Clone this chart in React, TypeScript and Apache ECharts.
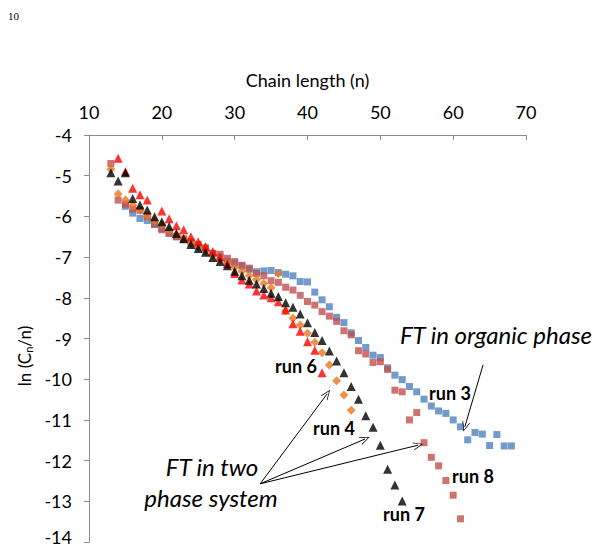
import React, { useEffect, useRef } from "react";
import * as echarts from "echarts";

// ---- data ----
const run3N = [15,16,17,18,19,20,21,22,23,24,25,26,27,28,29,30,31,32,33,34,35,36,37,38,39,40,41,42,43,44,45,46,47,48,49,50,51,52,53,54,55,56,57,58,59,60,61,62,63,64,65,66,67,68];
const run3V = [-5.75,-5.92,-6.05,-6.10,-6.20,-6.30,-6.40,-6.50,-6.58,-6.66,-6.74,-6.80,-6.92,-7.00,-7.10,-7.15,-7.22,-7.30,-7.36,-7.34,-7.33,-7.38,-7.42,-7.46,-7.60,-7.61,-7.86,-8.05,-8.22,-8.48,-8.61,-8.86,-9.05,-9.22,-9.41,-9.47,-9.72,-9.90,-10.01,-10.18,-10.31,-10.49,-10.66,-10.78,-10.84,-11.00,-11.17,-11.49,-11.31,-11.35,-11.63,-11.36,-11.64,-11.64];

const run8N = [13,14,15,16,17,18,19,20,21,22,23,24,25,26,27,28,29,30,31,32,33,34,35,36,37,38,39,40,41,42,43,44,45,46,47,48,49,50,51,52,53,54,55,56,57,58,59,60,61];
const run8V = [-4.70,-5.60,-5.70,-5.82,-5.85,-6.00,-6.19,-6.33,-6.42,-6.50,-6.55,-6.62,-6.69,-6.77,-6.91,-6.93,-7.03,-7.11,-7.20,-7.27,-7.40,-7.46,-7.58,-7.62,-7.74,-7.81,-7.94,-8.09,-8.18,-8.34,-8.45,-8.58,-8.81,-8.91,-9.30,-9.38,-9.59,-9.57,-9.76,-10.27,-10.31,-11.00,-10.82,-11.56,-11.92,-12.13,-12.49,-12.85,-13.43];

const run4N = [13,14,15,16,17,18,19,20,21,22,23,24,25,26,27,28,29,30,31,32,33,34,35,36,37,38,39,40,41,42,43,44,45,46];
const run4V = [-4.84,-5.45,-5.60,-5.72,-5.85,-6.00,-6.10,-6.20,-6.35,-6.45,-6.55,-6.65,-6.75,-6.85,-6.95,-7.05,-7.15,-7.25,-7.35,-7.45,-7.55,-7.65,-7.75,-7.40,-8.32,-8.50,-8.67,-8.87,-9.09,-9.35,-9.65,-10.04,-10.39,-10.76];

const run6N = [14,15,16,17,18,20,21,22,23,24,25,26,27,28,29,30,31,32,33,34,35,36,37,38,39,40,41,42];
const run6V = [-4.57,-4.90,-5.31,-5.47,-5.60,-5.87,-6.06,-6.23,-6.33,-6.50,-6.62,-6.74,-6.86,-7.00,-7.16,-7.40,-7.56,-7.66,-7.83,-7.93,-8.00,-8.10,-8.30,-8.64,-8.82,-9.08,-9.29,-9.84];

const run7N = [13,14,15,16,17,18,19,20,21,22,23,24,25,26,27,28,29,30,31,32,33,34,35,36,37,38,39,40,41,42,43,44,45,46,47,48,49,50,51,52,53];
const run7V = [-4.93,-5.13,-4.93,-5.56,-5.72,-5.84,-6.01,-6.13,-6.25,-6.42,-6.54,-6.69,-6.79,-6.88,-7.01,-7.11,-7.21,-7.35,-7.46,-7.57,-7.66,-7.77,-7.89,-7.97,-8.12,-8.23,-8.40,-8.61,-8.85,-9.05,-9.31,-9.55,-9.84,-10.18,-10.49,-10.90,-11.18,-11.62,-12.21,-12.60,-12.99];

// arrows (data coordinates): start -> end
const twoPhaseFrom = [33.5, -12.57];
const twoPhaseTo = [[42.7, -10.36], [47.9, -11.47], [55.2, -11.62]];
const organicFrom = [64.1, -9.65];
const organicTo = [61.6, -11.17];

const xTitle = "Chain length (n)";

const zip = (n: number[], v: number[]) => n.map((x, i) => [x, v[i]]);

const FONT = "Lato, 'Open Sans', sans-serif";
const ARROW = "path://M0,10 L5,0 L10,10 L9,10 L5,1.8 L1,10 Z";

export default function App() {
  const ref = useRef<HTMLDivElement>(null);
  useEffect(() => {
    if (!ref.current) return;
    const chart = echarts.init(ref.current, null, { renderer: "svg" });
    const arrowData: any[] = twoPhaseTo.map((t) => [
      { coord: twoPhaseFrom },
      { coord: t },
    ]);
    arrowData.push([{ coord: organicFrom }, { coord: organicTo }]);
    const boldText = (text: string, x: number, y: number) => ({
      type: "text",
      x,
      y,
      style: {
        text,
        font: `bold 18px ${FONT}`,
        fill: "#000",
        textAlign: "center",
        textVerticalAlign: "middle",
      },
    });
    const italicText = (text: string, x: number, y: number) => ({
      type: "text",
      x,
      y,
      style: {
        text,
        font: `italic 24px ${FONT}`,
        fill: "#000",
        textAlign: "center",
        textVerticalAlign: "middle",
      },
    });
    chart.setOption({
      animation: false,
      backgroundColor: "#fff",
      grid: { left: 89, top: 135, width: 437, height: 407, containLabel: false },
      xAxis: {
        type: "value",
        position: "top",
        min: 10,
        max: 70,
        interval: 10,
        name: xTitle,
        nameLocation: "middle",
        nameGap: 46,
        nameTextStyle: { fontFamily: FONT, fontSize: 18, color: "#000" },
        axisLine: { show: true, lineStyle: { color: "#8c8c8c" } },
        axisTick: { show: true, inside: true, length: 5, lineStyle: { color: "#8c8c8c" } },
        axisLabel: { fontFamily: FONT, fontSize: 18, color: "#000", margin: 14 },
        splitLine: { show: false },
      },
      yAxis: {
        type: "value",
        min: -14,
        max: -4,
        interval: 1,
        axisLine: { show: true, lineStyle: { color: "#8c8c8c" } },
        axisTick: { show: true, inside: false, length: 5, lineStyle: { color: "#8c8c8c" } },
        axisLabel: {
          fontFamily: FONT,
          fontSize: 18,
          color: "#000",
          margin: 17,
          formatter: (v: number) => (v === -14 ? "{low|" + v + "}" : String(v)),
          rich: {
            low: { fontFamily: FONT, fontSize: 18, color: "#000", padding: [0, 0, 10, 0] },
          },
        },
        splitLine: { show: false },
      },
      series: [
        {
          name: "run 3",
          type: "scatter",
          symbol: "rect",
          symbolSize: 7,
          itemStyle: { color: "#4F81BD" },
          data: zip(run3N, run3V),
        },
        {
          name: "run 8",
          type: "scatter",
          symbol: "rect",
          symbolSize: 7,
          itemStyle: { color: "#C0504D" },
          data: zip(run8N, run8V),
        },
        {
          name: "run 4",
          type: "scatter",
          symbol: "diamond",
          symbolSize: 9,
          itemStyle: { color: "#E8771E" },
          data: zip(run4N, run4V),
        },
        {
          name: "run 6",
          type: "scatter",
          symbol: "triangle",
          symbolSize: 9,
          itemStyle: { color: "#FF0000" },
          data: zip(run6N, run6V),
        },
        {
          name: "run 7",
          type: "scatter",
          symbol: "triangle",
          symbolSize: 9,
          itemStyle: { color: "#000000" },
          data: zip(run7N, run7V),
          markLine: {
            silent: true,
            symbol: ["none", ARROW],
            symbolSize: [8, 10],
            lineStyle: { color: "#000", width: 1, type: "solid" },
            label: { show: false },
            data: arrowData,
          },
        },
      ],
      graphic: [
        {
          type: "text",
          x: 8,
          y: 10,
          style: { text: "10", font: "11px 'Liberation Serif', serif", fill: "#000" },
        },
        {
          type: "text",
          x: 24,
          y: 356,
          rotation: Math.PI / 2,
          style: {
            text: "{a|ln (C}{s|n}{a|/n)}",
            textAlign: "center",
            textVerticalAlign: "middle",
            rich: {
              a: { fontFamily: FONT, fontSize: 17, fill: "#000" },
              s: { fontFamily: FONT, fontSize: 11, fill: "#000", padding: [9, 0, 0, 0] },
            },
          },
        },
        boldText("run 3", 450, 393),
        boldText("run 6", 296, 366),
        boldText("run 4", 334, 428),
        boldText("run 8", 473, 476),
        boldText("run 7", 404, 514),
        italicText("FT in organic phase", 496, 334),
        italicText("FT in two", 212, 466),
        italicText("phase system", 211, 497),
      ],
    });
    return () => chart.dispose();
  }, []);
  return (
    <div
      ref={ref}
      style={{ position: "fixed", left: 0, top: 0, width: 596, height: 548 }}
    />
  );
}
